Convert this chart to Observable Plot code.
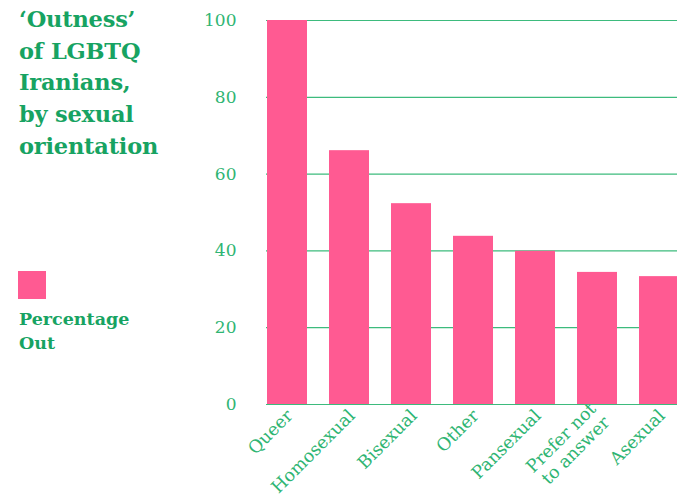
<!DOCTYPE html>
<html>
<head>
<meta charset="utf-8">
<script src="https://cdn.jsdelivr.net/npm/d3@7"></script>
<script src="https://cdn.jsdelivr.net/npm/@observablehq/plot@0.6"></script>
<style>
  html, body { margin: 0; padding: 0; background: #fff; overflow: hidden; }
  #wrap { position: relative; width: 677px; height: 503px; }
  #title { position: absolute; left: 19px; top: 4px; font: bold 22.5px "DejaVu Serif", serif; line-height: 31.7px; color: #17a362; letter-spacing: -0.2px; }
  #swatch { position: absolute; left: 18px; top: 271px; width: 28px; height: 28px; background: #ff5a92; }
  #legtext { position: absolute; left: 19px; top: 307px; font: bold 17.5px "DejaVu Serif", serif; line-height: 24px; color: #17a362; }
  #chart { position: absolute; left: 0; top: 0; }
</style>
</head>
<body>
<div id="wrap">
  <div id="chart"></div>
  <div id="title">‘Outness’<br>of LGBTQ<br>Iranians,<br>by sexual<br>orientation</div>
  <div id="swatch"></div>
  <div id="legtext">Percentage<br>Out</div>
</div>
<script>
const categories = ["Queer", "Homosexual", "Bisexual", "Other", "Pansexual", "Prefer not\nto answer", "Asexual"];
const values = [100, 66.1, 52.3, 43.8, 39.9, 34.4, 33.3];
const yTicks = [0, 20, 40, 60, 80, 100];

const data = categories.map((c, i) => ({category: c, value: values[i]}));
const green = "#2fb573";
const font = "DejaVu Serif, serif";

const chart = Plot.plot({
  width: 677,
  height: 503,
  marginTop: 20,
  marginBottom: 99,
  marginLeft: 266,
  marginRight: 0,
  style: {fontFamily: font, background: "transparent", overflow: "visible"},
  x: {domain: categories, range: [255, 690], paddingInner: 0.357, paddingOuter: 0.1785, label: null},
  y: {domain: [0, 100], label: null},
  marks: [
    Plot.gridY(yTicks, {stroke: "#3dbb7d", strokeOpacity: 1, strokeWidth: 1.2}),
    Plot.barY(data, {x: "category", y: "value", fill: "#ff5a92"}),
    Plot.axisY(yTicks, {tickSize: 0, tickPadding: 30, fontSize: 17, fill: green, label: null}),
    Plot.axisX({tickSize: 0, tickPadding: 8, tickRotate: -45, fontSize: 17.5, lineHeight: 1.1, dx: 2, fill: green, label: null})
  ]
});
document.getElementById("chart").appendChild(chart);
</script>
</body>
</html>
